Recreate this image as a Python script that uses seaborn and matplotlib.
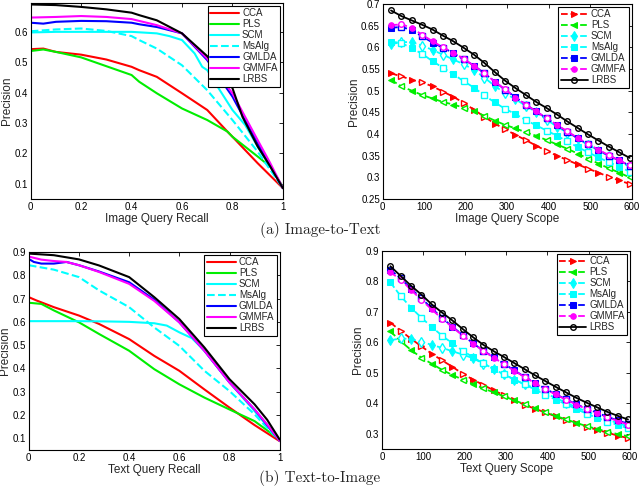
import matplotlib
matplotlib.use("Agg")
import matplotlib.pyplot as plt
import pandas as pd
import seaborn as sns

methods = ["CCA", "PLS", "SCM", "MsAlg", "GMLDA", "GMMFA", "LRBS"]
colors = {"CCA": "#ff0000", "PLS": "#00ee00", "SCM": "#00ffff", "MsAlg": "#00ffff",
          "GMLDA": "#0000ff", "GMMFA": "#ff00ff", "LRBS": "#000000"}
markers = {"CCA": ">", "PLS": "<", "SCM": "d", "MsAlg": "s",
           "GMLDA": "s", "GMMFA": "o", "LRBS": "o"}

# ---- (a) image-to-text, precision vs recall
i2t_recall = {
    "CCA": ([0, .05, .1, .2, .3, .4, .43, .5, .6, .7, .78, .8, .9, 1],
            [.543, .545, .534, .525, .509, .485, .474, .452, .398, .343, .272, .255, .168, .086]),
    "PLS": ([0, .05, .1, .2, .3, .4, .43, .5, .6, .7, .78, .8, .9, .95, 1],
            [.537, .542, .534, .516, .487, .458, .436, .398, .348, .31, .272, .255, .19, .157, .09]),
    "SCM": ([0, .1, .2, .3, .4, .5, .55, .6, .65, .68, .7, .75, .8, .85, .9, .95, 1],
            [.598, .6, .6, .6, .6, .595, .586, .573, .529, .485, .474, .408, .343, .294, .223, .157, .086]),
    "MsAlg": ([0, .1, .2, .3, .4, .43, .5, .6, .7, .8, .9, 1],
              [.602, .608, .611, .603, .586, .573, .545, .49, .408, .31, .206, .086]),
    "GMLDA": ([0, .05, .1, .2, .3, .4, .43, .5, .6, .7, .8, .9, 1],
              [.63, .627, .633, .636, .635, .63, .625, .616, .595, .507, .387, .233, .086]),
    "GMMFA": ([0, .1, .2, .3, .4, .43, .5, .6, .7, .78, .8, .9, .95, 1],
              [.647, .649, .652, .649, .642, .636, .622, .595, .512, .42, .398, .244, .168, .086]),
    "LRBS": ([0, .1, .2, .3, .4, .43, .5, .6, .7, .8, .84, .9, .95, 1],
             [.69, .688, .682, .674, .663, .655, .638, .595, .52, .415, .32, .223, .157, .086]),
}

# ---- (b) text-to-image, precision vs recall
t2i_recall = {
    "CCA": ([0, .03, .1, .2, .28, .4, .5, .6, .7, .8, .9, 1],
            [.706, .692, .663, .627, .591, .526, .454, .39, .31, .232, .157, .088]),
    "PLS": ([0, .05, .1, .2, .28, .4, .5, .6, .7, .8, .9, 1],
            [.682, .677, .649, .598, .548, .476, .397, .332, .275, .224, .174, .095]),
    "SCM": ([0, .1, .2, .3, .4, .5, .55, .6, .65, .7, .8, .9, 1],
            [.603, .603, .603, .602, .6, .594, .584, .555, .53, .476, .34, .217, .09]),
    "MsAlg": ([0, .1, .2, .28, .4, .5, .6, .7, .8, .9, .95, 1],
              [.843, .824, .792, .735, .663, .576, .497, .39, .303, .203, .145, .09]),
    "GMLDA": ([0, .02, .05, .1, .15, .2, .28, .4, .5, .6, .7, .8, .9, 1],
              [.87, .857, .85, .85, .857, .843, .816, .77, .695, .598, .476, .34, .224, .09]),
    "GMMFA": ([0, .05, .1, .15, .2, .28, .4, .5, .6, .7, .8, .9, .95, 1],
              [.88, .867, .861, .857, .843, .814, .763, .69, .598, .476, .34, .224, .16, .09]),
    "LRBS": ([0, .1, .2, .28, .4, .5, .6, .7, .8, .9, .95, 1],
             [.893, .886, .868, .842, .792, .706, .612, .49, .354, .246, .18, .095]),
}

scope = list(range(20, 600, 25))

i2t_scope = {
    "CCA": [.540, .533, .525, .519, .510, .498, .486, .472, .456, .440, .424, .411,
            .398, .386, .373, .361, .350, .340, .330, .320, .311, .301, .293, .285],
    "PLS": [.525, .510, .500, .490, .482, .474, .468, .461, .453, .442, .431, .421,
            .413, .404, .396, .386, .376, .366, .355, .343, .332, .321, .311, .300],
    "SCM": [.607, .612, .612, .604, .594, .583, .572, .561, .548, .530, .511, .494,
            .480, .465, .450, .433, .417, .403, .389, .375, .362, .349, .336, .325],
    "MsAlg": [.613, .610, .598, .585, .568, .553, .538, .522, .507, .489, .473, .458,
              .446, .432, .420, .408, .396, .383, .370, .358, .346, .335, .325, .313],
    "GMLDA": [.645, .647, .640, .625, .611, .599, .587, .572, .558, .540, .521, .502,
              .485, .468, .452, .436, .420, .405, .390, .376, .363, .350, .339, .327],
    "GMMFA": [.651, .653, .645, .629, .614, .600, .588, .574, .557, .540, .521, .503,
              .484, .468, .452, .437, .421, .406, .391, .377, .364, .351, .339, .328],
    "LRBS": [.685, .672, .662, .652, .641, .627, .614, .599, .583, .564, .543, .523,
             .506, .490, .474, .460, .445, .429, .414, .399, .385, .371, .358, .345],
}

t2i_scope = {
    "CCA": [.665, .638, .612, .587, .563, .541, .520, .497, .478, .460, .443, .426,
            .410, .395, .382, .370, .357, .345, .334, .323, .313, .304, .294, .286],
    "PLS": [.636, .604, .575, .550, .530, .510, .493, .478, .463, .449, .436, .423,
            .410, .397, .384, .371, .359, .347, .336, .325, .316, .307, .299, .292],
    "SCM": [.607, .613, .611, .602, .592, .582, .571, .560, .548, .530, .512, .495,
            .478, .462, .450, .433, .418, .402, .387, .373, .360, .347, .335, .324],
    "MsAlg": [.797, .752, .714, .681, .651, .622, .597, .573, .551, .531, .513, .495,
              .478, .462, .445, .428, .412, .397, .381, .366, .352, .340, .329, .318],
    "GMLDA": [.838, .810, .776, .745, .712, .680, .652, .624, .597, .573, .551, .530,
              .508, .487, .467, .448, .430, .413, .397, .383, .369, .356, .344, .333],
    "GMMFA": [.830, .806, .772, .740, .708, .678, .650, .622, .596, .572, .550, .528,
              .507, .486, .466, .447, .429, .412, .396, .381, .367, .354, .342, .330],
    "LRBS": [.850, .818, .786, .757, .725, .698, .672, .644, .617, .592, .571, .552,
             .532, .512, .492, .473, .454, .436, .418, .402, .387, .372, .359, .347],
}

sns.set_theme(style="white")
plt.rcParams["font.family"] = ["Liberation Sans", "DejaVu Sans"]

fig = plt.figure(figsize=(6.4, 4.94), dpi=100)
ax_tl = fig.add_axes([0.048, 0.597, 0.394, 0.397])
ax_tr = fig.add_axes([0.598, 0.597, 0.389, 0.395])
ax_bl = fig.add_axes([0.045, 0.089, 0.392, 0.401])
ax_br = fig.add_axes([0.597, 0.091, 0.3875, 0.401])


def style_axes(ax, xlabel):
    for s in ax.spines.values():
        s.set_color("black")
        s.set_linewidth(0.8)
    ax.tick_params(direction="in", top=True, right=True, length=3, width=0.6,
                   labelsize=7, pad=2, colors="black")
    ax.set_xlabel(xlabel, fontsize=8.5, labelpad=1)
    ax.set_ylabel("Precision", fontsize=8.5, labelpad=1)
    ax.grid(False)


def add_legend(ax, handlelength):
    leg = ax.legend(loc="upper right", fontsize=7, frameon=True, fancybox=False,
                    edgecolor="black", framealpha=1, borderpad=0.25, labelspacing=0.1,
                    handlelength=handlelength, handletextpad=0.3, borderaxespad=0.3,
                    numpoints=1)
    leg.get_frame().set_linewidth(0.8)


def recall_panel(ax, data, xlabel, ylim, yticks):
    for m in methods:
        x, y = data[m]
        df = pd.DataFrame({"recall": x, "precision": y})
        sns.lineplot(data=df, x="recall", y="precision", ax=ax, color=colors[m],
                     linewidth=1.5, linestyle="--" if m == "MsAlg" else "-",
                     sort=False, estimator=None, errorbar=None, label=m)
    ax.set_xlim(0, 1)
    ax.set_ylim(*ylim)
    ax.set_xticks([0, .2, .4, .6, .8, 1])
    ax.set_xticklabels(["0", "0.2", "0.4", "0.6", "0.8", "1"])
    ax.set_yticks(yticks)
    ax.set_yticklabels([f"{t:g}" for t in yticks])
    style_axes(ax, xlabel)
    add_legend(ax, 3.0)


def scope_panel(ax, data, xlabel, ylim, yticks):
    for m in methods:
        df = pd.DataFrame({"scope": scope, "precision": data[m]})
        ms = 4 if m in ("GMMFA", "LRBS") else 5
        if m == "LRBS":
            sns.lineplot(data=df, x="scope", y="precision", ax=ax, color="black",
                         linewidth=1.3, marker="o", markersize=ms, mfc="none",
                         mec="black", mew=1.0, sort=False, estimator=None,
                         errorbar=None, label=m)
            continue
        sns.lineplot(data=df, x="scope", y="precision", ax=ax, color=colors[m],
                     linewidth=1.3, linestyle="--", dashes=(3, 2), marker=markers[m],
                     markersize=ms, mfc=colors[m], mec=colors[m], markevery=(0, 2),
                     sort=False, estimator=None, errorbar=None, label=m)
        odd = df.iloc[1::2]
        ax.plot(odd["scope"], odd["precision"], linestyle="none", marker=markers[m],
                markersize=ms, mfc="white", mec=colors[m], mew=1.0)
    ax.set_xlim(0, 600)
    ax.set_ylim(*ylim)
    ax.set_xticks(range(0, 601, 100))
    ax.set_yticks(yticks)
    ax.set_yticklabels([f"{t:g}" for t in yticks])
    style_axes(ax, xlabel)
    add_legend(ax, 2.8)


recall_panel(ax_tl, i2t_recall, "Image Query Recall", (0.05, 0.695),
             [.1, .2, .3, .4, .5, .6])
scope_panel(ax_tr, i2t_scope, "Image Query Scope", (0.25, 0.7),
            [.25, .3, .35, .4, .45, .5, .55, .6, .65, .7])
recall_panel(ax_bl, t2i_recall, "Text Query Recall", (0.05, 0.9),
             [.1, .2, .3, .4, .5, .6, .7, .8, .9])
scope_panel(ax_br, t2i_scope, "Text Query Scope", (0.25, 0.9),
            [.3, .4, .5, .6, .7, .8, .9])

fig.text(0.5, 1 - 230 / 494, "(a) Image-to-Text", ha="center", va="center",
         fontsize=11, family=["cmr10", "DejaVu Serif"])
fig.text(0.5, 1 - 478 / 494, "(b) Text-to-Image", ha="center", va="center",
         fontsize=11, family=["cmr10", "DejaVu Serif"])

fig.savefig("out.png", dpi=100, facecolor="white")
